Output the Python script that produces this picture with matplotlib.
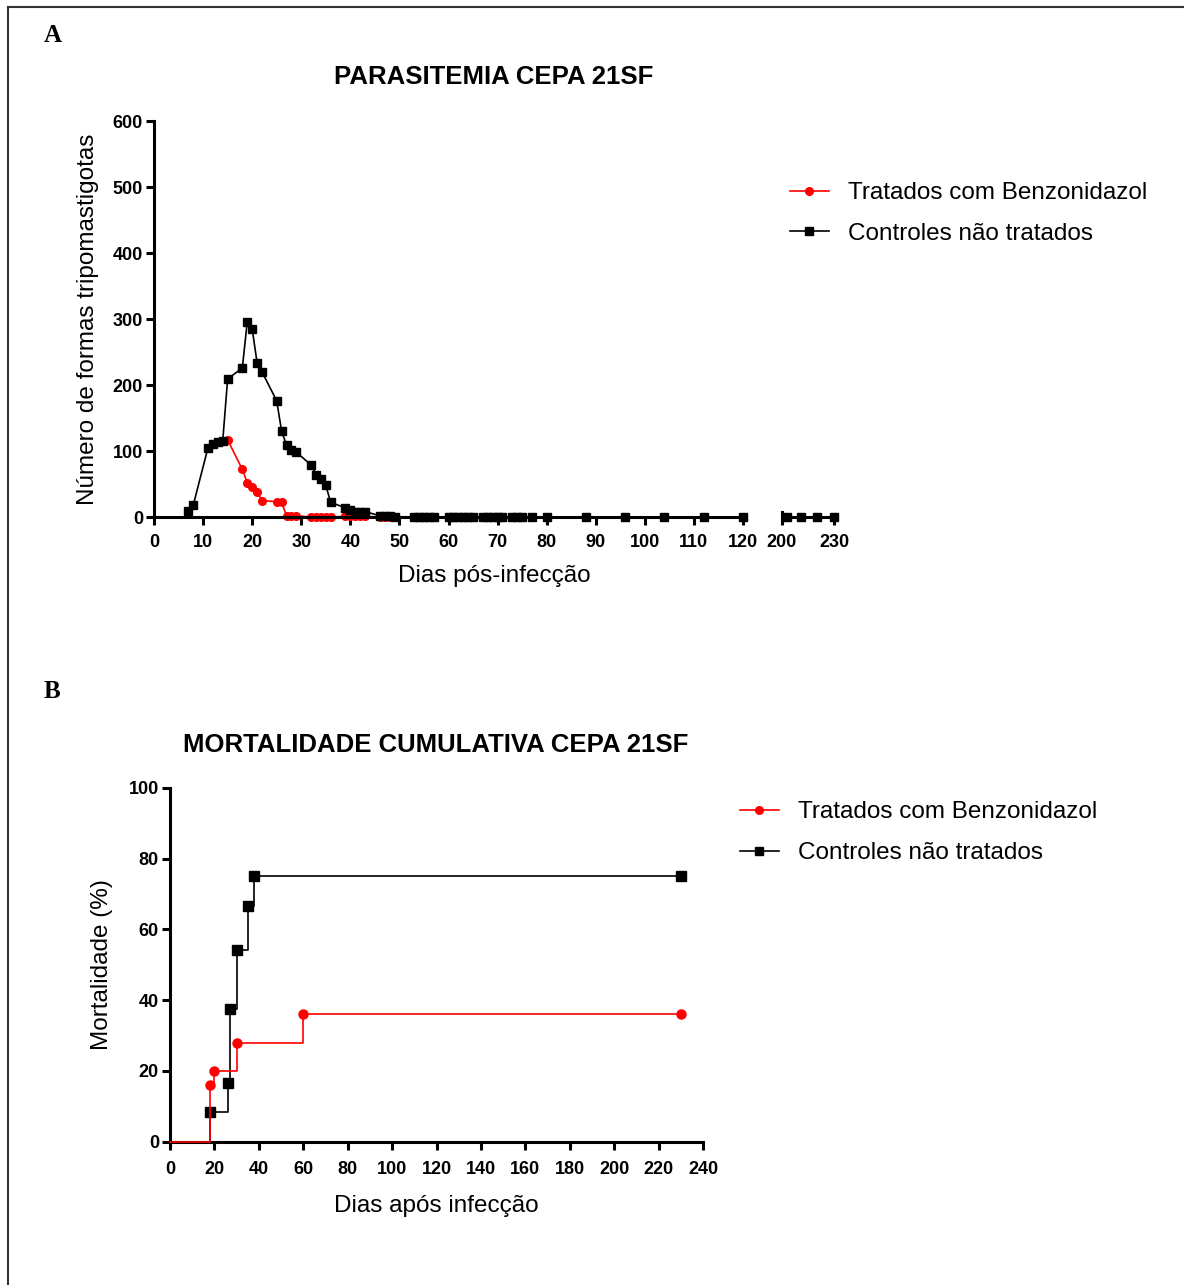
import matplotlib.pyplot as plt
import matplotlib.lines as mlines
import numpy as np

plt.rcParams['font.family'] = ['Liberation Sans', 'DejaVu Sans']

# --- panel A: parasitemia (days post infection, number of trypomastigotes)
ctrl_days = [7, 8, 11, 12, 13, 14, 15, 18, 19, 20, 21, 22, 25, 26, 27, 28, 29,
             32, 33, 34, 35, 36, 39, 40, 41, 42, 43, 46, 47, 48, 49,
             53, 54, 55, 56, 57, 60, 61, 62, 63, 64, 65, 67, 68, 69, 70, 71,
             73, 74, 75, 77, 80, 88, 96, 104, 112, 120]
ctrl_vals = [9, 18, 105, 110, 113, 115, 209, 226, 296, 285, 234, 220, 176, 130, 109, 101, 98,
             79, 64, 58, 48, 22, 14, 11, 8, 8, 8, 2, 1, 1, 0.5,
             0, 0, 0, 0, 0, 0, 0, 0, 0, 0, 0, 0, 0, 0, 0, 0,
             0, 0, 0, 0, 0, 0, 0, 0, 0, 0]
trat_days = [15, 18, 19, 20, 21, 22, 25, 26, 27, 28, 29, 32, 33, 34, 35, 36,
             39, 40, 41, 42, 43] + ctrl_days[27:]
trat_vals = [117, 72, 52, 45, 38, 25, 23, 22, 2, 2, 2, 0, 0, 0, 0, 0,
             1, 1, 1, 1, 1] + [0] * len(ctrl_days[27:])

# late segment after the axis break
late_days = [203, 211, 220, 230]
late_ctrl = [0, 0, 0, 0]
late_trat = [0, 0, 0, 0]

# --- panel B: cumulative mortality (%)
mort_ctrl_days = [0, 18, 26, 27, 30, 35, 38, 230]
mort_ctrl_vals = [0, 8.33, 16.67, 37.5, 54.17, 66.67, 75, 75]
mort_trat_days = [0, 18, 20, 30, 60, 230]
mort_trat_vals = [0, 16, 20, 28, 36, 36]

lab_trat = 'Tratados com Benzonidazol'
lab_ctrl = 'Controles não tratados'

W, H = 1184, 1285
fig = plt.figure(figsize=(W / 100, H / 100), dpi=100)

def box(x0, x1, y_top, y_bot):
    return [x0 / W, 1 - y_bot / H, (x1 - x0) / W, (y_bot - y_top) / H]

def style(ax):
    for s in ['top', 'right']:
        ax.spines[s].set_visible(False)
    for s in ['left', 'bottom']:
        ax.spines[s].set_linewidth(2.2)
    ax.tick_params(direction='out', length=6, width=2.2, labelsize=13)
    ax.tick_params(axis='x', pad=6)
    ax.tick_params(axis='y', pad=2)
    for t in ax.get_xticklabels() + ax.get_yticklabels():
        t.set_fontweight('bold')

# panel A, first segment
ax1 = fig.add_axes(box(154, 743, 121, 517))
ax1.plot(trat_days, trat_vals, color='red', marker='o', markersize=5.5, linewidth=1.2, zorder=2)
ax1.plot(ctrl_days, ctrl_vals, color='black', marker='s', markersize=6, linewidth=1.2, zorder=3)
ax1.set_xlim(0, 120)
ax1.set_ylim(0, 600)
ax1.set_xticks(np.arange(0, 121, 10))
ax1.set_yticks(np.arange(0, 601, 100))
for l in ax1.lines:
    l.set_clip_on(False)
style(ax1)
ax1.set_ylabel('Número de formas tripomastigotas', fontsize=17.5, labelpad=10)

# panel A, second segment
ax2 = fig.add_axes(box(781.7, 834, 121, 517))
ax2.plot(late_days, late_trat, color='red', marker='o', markersize=5.5, linewidth=1.2, zorder=2, clip_on=False)
ax2.plot(late_days, late_ctrl, color='black', marker='s', markersize=6, linewidth=1.2, zorder=3, clip_on=False)
ax2.set_xlim(200, 230)
ax2.set_ylim(0, 600)
ax2.set_xticks([200, 230])
ax2.set_yticks([])
style(ax2)
ax2.spines['left'].set_bounds(-8, 8)
ax2.spines['left'].set_linewidth(2.2)

fig.text(494 / W, 1 - 77 / H, 'PARASITEMIA CEPA 21SF', fontsize=18.5, fontweight='bold',
         ha='center', va='center')
fig.text(494 / W, 1 - 576 / H, 'Dias pós-infecção', fontsize=17.5, ha='center', va='center')

hA = [mlines.Line2D([], [], color='red', marker='o', markersize=5.5, linewidth=1.2),
      mlines.Line2D([], [], color='black', marker='s', markersize=6, linewidth=1.2)]
fig.legend(hA, [lab_trat, lab_ctrl], loc='upper left', bbox_to_anchor=(790 / W, 1 - 182 / H),
           frameon=False, fontsize=17.5, handlelength=1.6, handletextpad=0.8,
           labelspacing=0.78, borderaxespad=0, borderpad=0)

# panel B
axb = fig.add_axes(box(170, 703, 788, 1141.5))
axb.step(mort_ctrl_days, mort_ctrl_vals, where='post', color='black', linewidth=1.2, zorder=2)
axb.plot(mort_ctrl_days[1:], mort_ctrl_vals[1:], 's', color='black', markersize=6.5, zorder=3)
axb.step(mort_trat_days, mort_trat_vals, where='post', color='red', linewidth=1.2, zorder=4)
axb.plot(mort_trat_days[1:], mort_trat_vals[1:], 'o', color='red', markersize=6.5, zorder=5)
axb.set_xlim(0, 240)
axb.set_ylim(0, 100)
axb.set_xticks(np.arange(0, 241, 20))
axb.set_yticks(np.arange(0, 101, 20))
for l in axb.lines:
    l.set_clip_on(False)
style(axb)
axb.tick_params(axis='x', pad=8)
axb.set_ylabel('Mortalidade (%)', fontsize=17.5, labelpad=11)
axb.set_xlabel('Dias após infecção', fontsize=17.5, labelpad=12)
fig.text(436 / W, 1 - 745 / H, 'MORTALIDADE CUMULATIVA CEPA 21SF', fontsize=18.5, fontweight='bold',
         ha='center', va='center')

hB = [mlines.Line2D([], [], color='red', marker='o', markersize=5.5, linewidth=1.2),
      mlines.Line2D([], [], color='black', marker='s', markersize=6, linewidth=1.2)]
fig.legend(hB, [lab_trat, lab_ctrl], loc='upper left', bbox_to_anchor=(740 / W, 1 - 801 / H),
           frameon=False, fontsize=17.5, handlelength=1.6, handletextpad=0.8,
           labelspacing=0.8, borderaxespad=0, borderpad=0)

# panel letters
fig.text(44 / W, 1 - 36 / H, 'A', fontsize=18, fontweight='bold', family='Liberation Serif',
         ha='left', va='center')
fig.text(44 / W, 1 - 692 / H, 'B', fontsize=18, fontweight='bold', family='Liberation Serif',
         ha='left', va='center')

# outer frame (top and left edges)
fig.add_artist(mlines.Line2D([8 / W, 1], [1 - 7 / H, 1 - 7 / H], color='#333333', linewidth=1.5))
fig.add_artist(mlines.Line2D([8 / W, 8 / W], [1 - 7 / H, 0], color='#333333', linewidth=1.5))

plt.savefig('out.png', dpi=100)
